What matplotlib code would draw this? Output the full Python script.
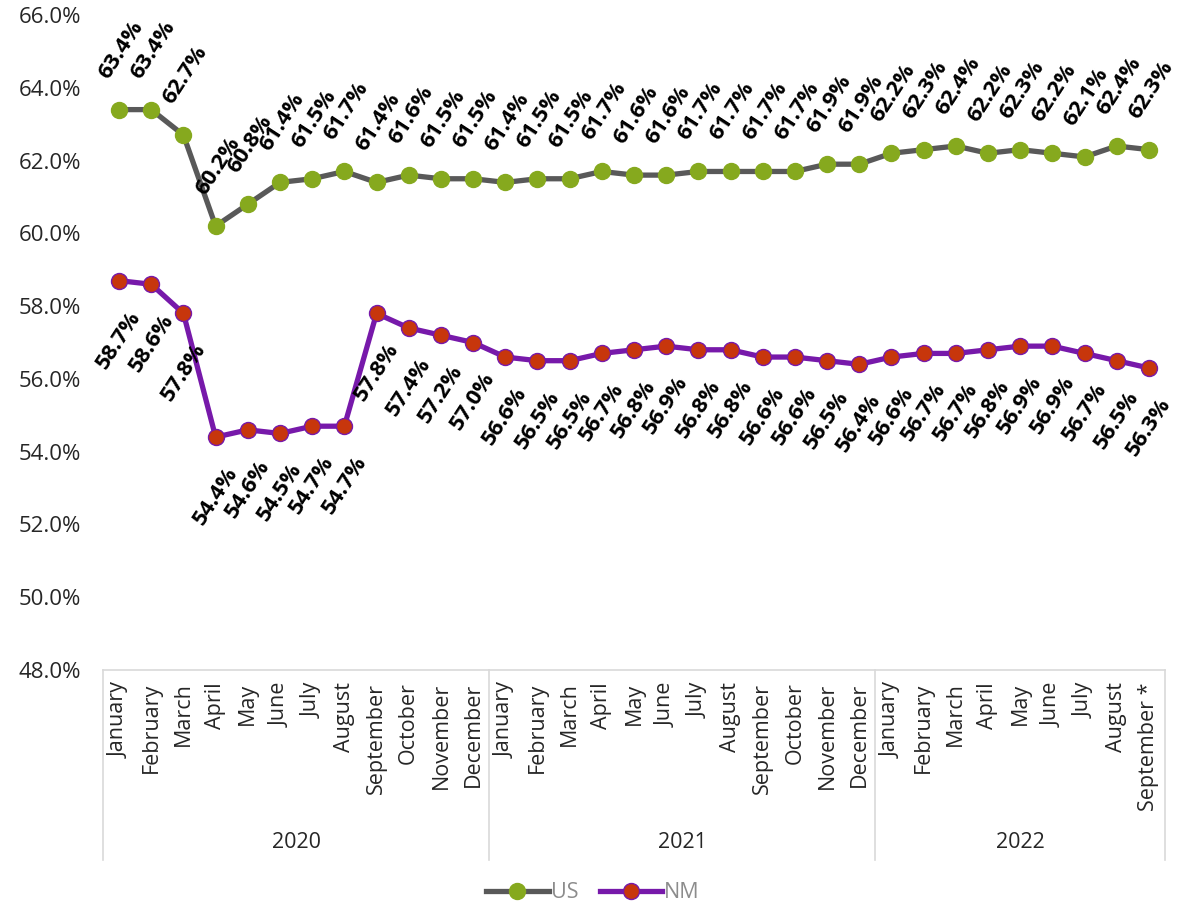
import matplotlib
matplotlib.use("Agg")
import matplotlib.pyplot as plt
import matplotlib.transforms as mtransforms
from matplotlib.lines import Line2D

plt.rcParams['font.family'] = ['Open Sans', 'DejaVu Sans']

months = ["January", "February", "March", "April", "May", "June", "July", "August",
          "September", "October", "November", "December"]
month_labels = months * 2 + months[:8] + ["September *"]
years = ["2020", "2021", "2022"]
year_counts = [12, 12, 9]

us = [63.4, 63.4, 62.7, 60.2, 60.8, 61.4, 61.5, 61.7, 61.4, 61.6, 61.5, 61.5,
      61.4, 61.5, 61.5, 61.7, 61.6, 61.6, 61.7, 61.7, 61.7, 61.7, 61.9, 61.9,
      62.2, 62.3, 62.4, 62.2, 62.3, 62.2, 62.1, 62.4, 62.3]
nm = [58.7, 58.6, 57.8, 54.4, 54.6, 54.5, 54.7, 54.7, 57.8, 57.4, 57.2, 57.0,
      56.6, 56.5, 56.5, 56.7, 56.8, 56.9, 56.8, 56.8, 56.6, 56.6, 56.5, 56.4,
      56.6, 56.7, 56.7, 56.8, 56.9, 56.9, 56.7, 56.5, 56.3]
yticks = [48, 50, 52, 54, 56, 58, 60, 62, 64, 66]

W, H = 1178, 907
fig = plt.figure(figsize=(W / 100, H / 100), dpi=100)
L, R, T, B = 103, 1165, 15, 670
ax = fig.add_axes([L / W, 1 - B / H, (R - L) / W, (B - T) / H])

x = list(range(len(us)))
us_line_c = "#595959"
us_mark_c = "#86A91E"
nm_line_c = "#7719AA"
nm_mark_c = "#C7360C"

ax.plot(x, us, color=us_line_c, lw=3.8, marker='o', ms=11.5,
        mfc=us_mark_c, mec=us_mark_c, zorder=3, label="US")
ax.plot(x, nm, color=nm_line_c, lw=3.8, marker='o', ms=11.5,
        mfc=nm_mark_c, mec=nm_line_c, mew=1.0, zorder=3, label="NM")

lab_kw = dict(rotation=57, ha='center', va='center', fontsize=16,
              fontweight='bold', fontstyle='normal', color='black', zorder=4,
              textcoords='offset pixels')
for xi, v in zip(x, us):
    ax.annotate(f"{v:.1f}%", (xi, v), xytext=(2, 60), **lab_kw)
for xi, v in zip(x, nm):
    ax.annotate(f"{v:.1f}%", (xi, v), xytext=(0, -59), **lab_kw)

ax.set_xlim(-0.5, len(us) - 0.5)
ax.set_ylim(48, 66)
ax.set_yticks(yticks)
ax.set_yticklabels([f"{t:.1f}%" for t in yticks], fontsize=16, color='#262626')
ax.set_xticks(x)
ax.set_xticklabels(month_labels, rotation=90, fontsize=15.5, color='#262626', va='top')
ax.tick_params(axis='both', length=0)
ax.tick_params(axis='y', pad=16)
ax.tick_params(axis='x', pad=9)
for s in ['left', 'right', 'top']:
    ax.spines[s].set_visible(False)
ax.spines['bottom'].set_color('#D9D9D9')
ax.spines['bottom'].set_linewidth(1.2)

# category group frame
trans = mtransforms.blended_transform_factory(ax.transData, ax.transAxes)
depth = -(860 - B) / (B - T)
pos = -0.5
bounds = [pos]
for c in year_counts:
    pos += c
    bounds.append(pos)
for b in bounds:
    ax.add_line(Line2D([b, b], [0, depth], transform=trans, color='#D9D9D9',
                       lw=1.2, clip_on=False))
yl = -(843 - B) / (B - T)
for i, yr in enumerate(years):
    cx = (bounds[i] + bounds[i + 1]) / 2
    ax.text(cx, yl, yr, transform=trans, ha='center', va='center',
            fontsize=15.5, color='#262626')

leg = fig.legend(loc='center', bbox_to_anchor=(593 / W, 1 - 893 / H), ncol=2,
                 frameon=False, fontsize=15.5, handlelength=2.9, columnspacing=1.0,
                 handletextpad=0.1)
for t in leg.get_texts():
    t.set_color('#8C8C8C')

fig.savefig("out.png", dpi=100)
